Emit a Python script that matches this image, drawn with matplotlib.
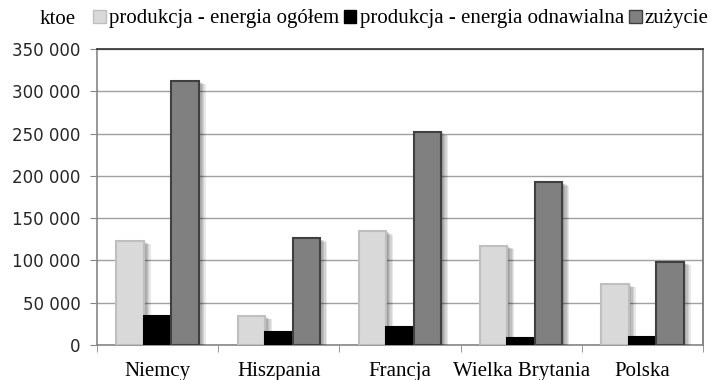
import numpy as np
import matplotlib.pyplot as plt
import matplotlib.patheffects as pe
from matplotlib.patches import Rectangle
from matplotlib.font_manager import FontProperties

# data (ktoe)
countries = ["Niemcy", "Hiszpania", "Francja", "Wielka Brytania", "Polska"]
series_names = ["produkcja - energia ogółem", "produkcja - energia odnawialna", "zużycie"]
prod_total = [123300, 34300, 134700, 117400, 72100]
prod_renew = [34600, 15700, 21600, 8600, 9800]
consumption = [312400, 126100, 252100, 192300, 98500]
yticks = [0, 50000, 100000, 150000, 200000, 250000, 300000, 350000]

fills = ["#d9d9d9", "#000000", "#808080"]
edges = ["#bfbfbf", "#000000", "#404040"]

serif = FontProperties(family="Liberation Serif", size=15)

fig = plt.figure(figsize=(7.15, 3.8), dpi=100)
ax = fig.add_axes([97 / 715, 35 / 380, 606 / 715, 296 / 380])

x = np.arange(len(countries))
w = 0.227

# soft shadow imitation: stacked offset shadows
shadow = [pe.SimplePatchShadow(offset=(d, -d * 0.5), shadow_rgbFace="#000000", alpha=0.09)
          for d in (1, 2, 3, 4, 5)] + [pe.Normal()]

for i, vals in enumerate([prod_total, prod_renew, consumption]):
    bars = ax.bar(x + (i - 1) * w, vals, width=w, color=fills[i], edgecolor=edges[i],
                  linewidth=1.5, zorder=3, label=series_names[i])
    for b in bars:
        b.set_path_effects(shadow)

ax.set_xlim(-0.5, len(countries) - 0.5)
ax.set_ylim(0, 350000)

ax.set_yticks(yticks)
ax.set_yticklabels([f"{v:,}".replace(",", " ") for v in yticks], fontfamily="DejaVu Sans", fontsize=12)
ax.yaxis.grid(True, color="#a0a0a0", linewidth=1.0, zorder=0)
ax.set_axisbelow(True)
ax.tick_params(axis="y", length=5, color="#868686", pad=7, labelcolor="#262626")

ax.set_xticks(x)
ax.set_xticklabels(countries, fontproperties=serif)
ax.set_xticks(np.arange(-0.5, len(countries) + 0.5, 1), minor=True)
ax.tick_params(axis="x", which="major", length=0, pad=12)
ax.tick_params(axis="x", which="minor", length=5, color="#868686")

ax.spines["left"].set_color("#868686")
ax.spines["bottom"].set_color("#868686")
ax.spines["top"].set_color("#303030")
ax.spines["right"].set_color("#707070")
for s in ax.spines.values():
    s.set_linewidth(1.2)

# legend at top
handles = [Rectangle((0, 0), 1, 1, facecolor=fills[i], edgecolor=edges[i], linewidth=1)
           for i in range(3)]
fig.legend(handles, series_names, loc="center left", bbox_to_anchor=(93 / 715, 1 - 19 / 380),
           ncol=3, frameon=False, prop=serif, handlelength=0.6,
           handleheight=0.6, handletextpad=0.15, columnspacing=0.25, borderpad=0, borderaxespad=0)
fig.text(40 / 715, 1 - 19 / 380, "ktoe", fontproperties=serif, va="center", ha="left")

fig.savefig("out.png", dpi=100)
